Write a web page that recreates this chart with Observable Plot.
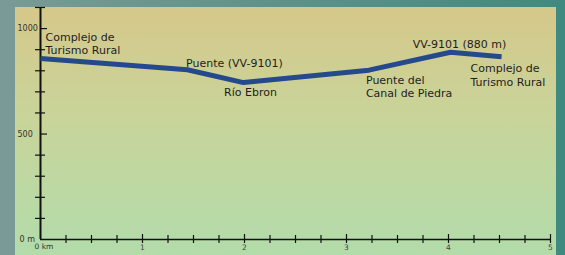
<!DOCTYPE html>
<html>
<head>
<meta charset="utf-8">
<script src="https://cdn.jsdelivr.net/npm/d3@7"></script>
<script src="https://cdn.jsdelivr.net/npm/@observablehq/plot@0.6"></script>
<style>
  html, body { margin: 0; padding: 0; }
  #wrap { position: relative; width: 565px; height: 255px; overflow: hidden;
    background: linear-gradient(to right, #7a9a96, #3f8a80); font-family: "DejaVu Sans", sans-serif; }
  #panel { position: absolute; left: 15px; top: 7px; width: 541px; height: 248px;
    background: linear-gradient(to bottom, #d6c88a, #c8d49a 45%, #b2dcaa); }
  #chart { position: absolute; left: 0; top: 0; }
</style>
</head>
<body>
<div id="wrap"><div id="panel"></div><div id="chart"></div></div>
<script>
// Profile data (distance in km, elevation in m)
const distanceKm = [0, 1.44, 1.99, 3.22, 4.02, 4.52];
const elevationM = [858, 805, 744, 803, 888, 866];
// Place labels attached to profile points
const placeNames = [
  "Complejo de\nTurismo Rural",
  "Puente (VV-9101)",
  "Río Ebron",
  "Puente del\nCanal de Piedra",
  "VV-9101 (880 m)",
  "Complejo de\nTurismo Rural"
];
// Axis ticks and labels
const yMajorTicks = [500, 1000];
const yMinorTicks = [100, 200, 300, 400, 600, 700, 800, 900, 1100];
const yTickLabels = ["500", "1000"];
const xMajorTicks = [1, 2, 3, 4, 5];
const xMinorTicks = [0.25, 0.5, 0.75, 1.25, 1.5, 1.75, 2.25, 2.5, 2.75, 3.25, 3.5, 3.75, 4.25, 4.5, 4.75];
const xTickLabels = ["1", "2", "3", "4", "5"];

const profile = distanceKm.map((k, i) => ({km: k, elev: elevationM[i]}));
// label offsets (pixels) relative to each profile point
const labelStyle = [
  {dx: 5, dy: -15, anchor: "start"},
  {dx: 47, dy: -7, anchor: "middle"},
  {dx: 7, dy: 9, anchor: "middle"},
  {dx: -3, dy: 16, anchor: "start"},
  {dx: 9, dy: -8, anchor: "middle"},
  {dx: -31, dy: 18, anchor: "start"}
];
const labels = placeNames.map((t, i) => ({text: t, km: distanceKm[i], elev: elevationM[i], ...labelStyle[i]}));

const marks = [
  // y axis ticks
  Plot.axisY(yMinorTicks, {tickSize: 10, dx: 5, text: null, label: null, stroke: "#111", strokeWidth: 1.2}),
  Plot.axisY(yMajorTicks, {tickSize: 7, dx: 7, text: null, label: null, stroke: "#111", strokeWidth: 1.2}),
  Plot.text(yMajorTicks, {x: 0, y: d => d, text: (d, i) => yTickLabels[i], dx: -23, textAnchor: "start", fontSize: 8, fill: "#333"}),
  // x axis ticks
  Plot.axisX(xMinorTicks, {tickSize: 8, dy: -4, text: null, label: null, stroke: "#111", strokeWidth: 1.2}),
  Plot.axisX(xMajorTicks, {tickSize: 9, dy: -5, text: null, label: null, stroke: "#111", strokeWidth: 1.2}),
  Plot.text(xMajorTicks, {x: d => d, y: 0, text: (d, i) => xTickLabels[i], dy: 8, fontSize: 7.5, fill: "#444"}),
  Plot.text(["0 km"], {x: 0, y: 0, text: d => d, dx: -6, dy: 7, textAnchor: "start", fontSize: 7.5, fill: "#333"}),
  Plot.text(["0 m"], {x: 0, y: 0, text: d => d, dx: -21, dy: 0, textAnchor: "start", fontSize: 8, fill: "#333"}),
  // axis lines
  Plot.ruleX([0], {y1: 0, y2: 1100, stroke: "#111", strokeWidth: 2}),
  Plot.ruleY([0], {x1: 0, x2: 5, stroke: "#111", strokeWidth: 1.6}),
  // profile
  Plot.line(profile, {x: "km", y: "elev", stroke: "#24498c", strokeWidth: 5, strokeLinejoin: "miter", strokeLinecap: "butt"}),
  // labels
  ...labels.map(l => Plot.text([l], {x: "km", y: "elev", text: "text", dx: l.dx, dy: l.dy, textAnchor: l.anchor,
    lineAnchor: "middle", lineHeight: 1.2, fontSize: 11, fill: "#1e1e1e"}))
];

const chart = Plot.plot({
  width: 565,
  height: 255,
  marginLeft: 40,
  marginRight: 15,
  marginTop: 7,
  marginBottom: 16,
  x: {domain: [0, 5], axis: null, label: null},
  y: {domain: [0, 1100], axis: null, label: null},
  style: {background: "transparent", fontFamily: "DejaVu Sans, sans-serif", overflow: "visible"},
  marks
});
document.getElementById("chart").appendChild(chart);
</script>
</body>
</html>
